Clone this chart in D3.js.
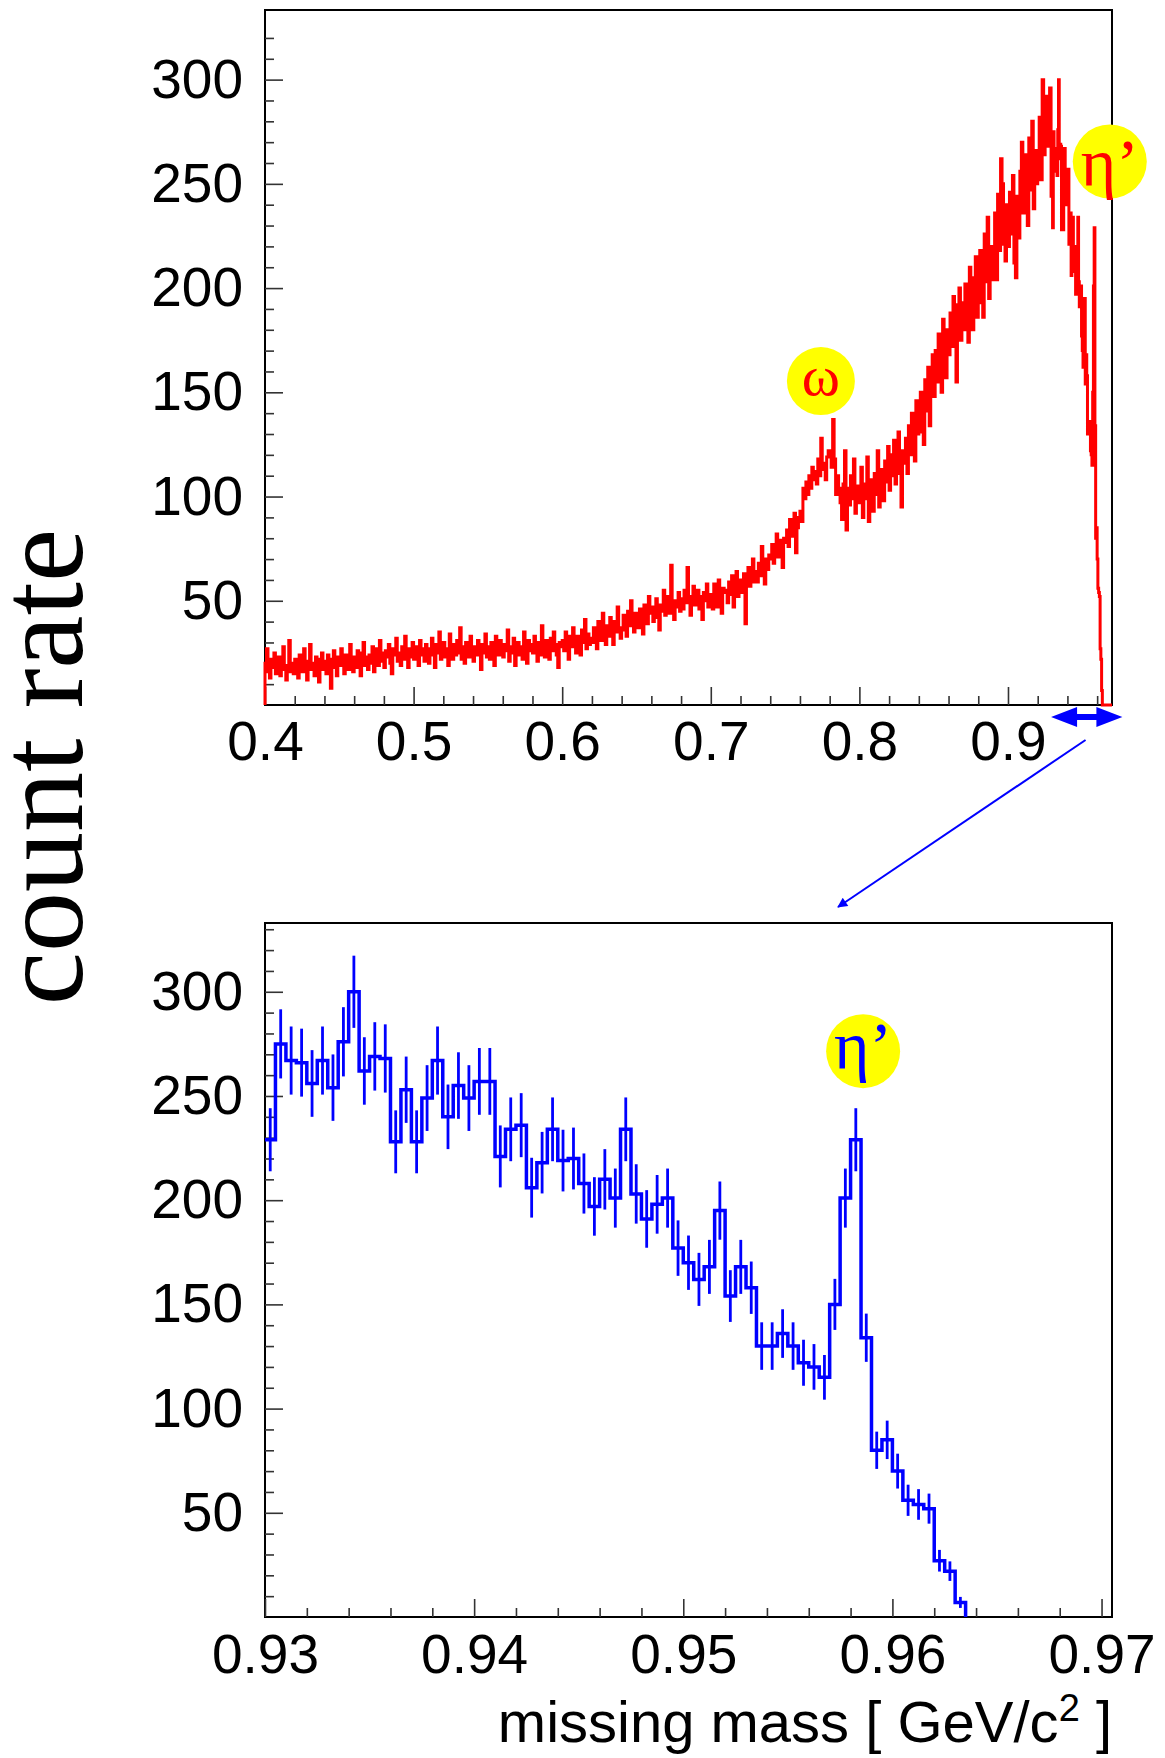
<!DOCTYPE html>
<html><head><meta charset="utf-8">
<script src="https://cdn.jsdelivr.net/npm/d3@7"></script>
<style>body{margin:0;background:#fff}</style>
</head><body>
<svg id="c" width="1165" height="1758"></svg>
<script>
// ---------------- DATA ----------------
// upper panel: counts per bin, bins of 0.001 starting at the given mass
const top_040_050 = [20,27,16,13,22,18,25,15,19,23, 14,21,28,17,12,19,31,16,20,15, 22,18,13,24,19,16,27,21,12,18, 29,17,20,14,23,19,11,22,25,17, 21,15,24,19,8,22,26,18,14,23, 19,27,21,15,24,20,17,29,22,16, 23,18,26,21,14,25,30,19,23,17, 24,20,28,16,22,27,19,31,21,25, 18,26,23,29,20,15,27,24,32,21, 25,19,28,22,33,24,18,27,23,30];
const top_050_060 = [22,28,25,19,31,24,27,21,29,26, 20,27,32,24,18,29,25,35,22,27, 30,23,27,19,34,26,22,29,24,31, 25,37,22,28,20,30,26,23,33,27, 21,28,24,31,26,17,29,25,34,23, 28,22,30,25,19,33,27,24,31,26, 23,29,26,36,21,28,25,32,19,27, 30,24,28,22,35,27,20,31,26,29, 25,33,27,21,30,24,38,28,23,31, 27,22,32,26,35,29,24,18,30,28];
const top_060_070 = [31,26,35,29,22,33,28,37,30,25, 33,28,24,36,30,41,27,34,29,32, 30,37,33,27,40,35,31,44,34,29, 38,33,42,36,29,40,35,47,37,32, 36,43,39,33,45,38,50,41,35,44, 41,37,46,40,34,48,43,39,52,44, 47,40,44,51,42,36,48,45,55,43, 46,52,44,67,48,41,50,47,54,45, 51,46,55,49,66,52,43,50,57,48, 49,55,46,52,41,54,50,58,47,53];
const top_070_080 = [51,46,58,53,47,60,52,44,56,54, 55,49,59,53,62,47,56,64,52,58, 60,54,63,39,58,66,57,61,70,59, 64,59,68,62,76,66,58,70,65,72, 70,77,68,74,82,71,79,73,66,80, 78,84,76,89,81,86,92,73,85,90, 93,88,104,99,107,101,110,104,114,108, 112,106,118,110,128,116,113,108,119,122, 120,114,137,118,101,110,104,97,89,106, 122,84,104,96,110,99,118,92,105,101];
const top_080_090 = [97,114,90,106,99,119,88,108,102,93, 111,101,122,95,113,104,98,117,107,124, 103,120,110,127,106,117,131,111,95,122, 116,128,111,134,120,140,124,117,146,130, 131,150,136,125,156,141,162,134,152,168, 148,170,155,178,160,150,185,166,157,180, 168,188,172,196,176,155,192,200,175,193, 180,202,186,174,210,190,180,205,215,186, 193,218,200,186,226,203,234,195,220,204, 210,236,204,245,218,262,250,221,213,240];
const top_090_093 = [220,246,226,254,212,205,244,224,256,270, 236,264,244,230,272,247,280,238,266,250, 256,282,252,300,264,292,268,276,296,244];
// lower panel (also the tail of the upper one): counts per bin of 0.0005 from 0.930
const zoomCounts = [229,275,267,266,256,267,254,276,300,262, 269,268,228,253,228,249,267,240,255,249, 257,257,221,234,236,206,218,234,219,220, 208,197,210,201,234,203,191,198,201,177, 170,162,168,195,154,168,158,130,130,136, 130,122,120,115,150,201,229,134,80,85, 70,56,54,52,27,22,7,0,0,0, 0,0,0,0,0,0,0,0,0,0, 0];
const topBinWidth = 0.001, zoomBinWidth = 0.0005;
const topChunks = [[0.40, top_040_050],[0.50, top_050_060],[0.60, top_060_070],[0.70, top_070_080],[0.80, top_080_090],[0.90, top_090_093]];
const zoomStart = 0.93;

const yTickLabels = [50,100,150,200,250,300];
const topXTicks = [0.4,0.5,0.6,0.7,0.8,0.9];
const botXTicks = [0.93,0.94,0.95,0.96,0.97];

// ---------------- LAYOUT ----------------
const svg = d3.select('#c');
svg.append('rect').attr('width',1165).attr('height',1758).attr('fill','#fff');
const PT = {l:265, r:1112, t:10, b:705};
const PB = {l:265, r:1112, t:923, b:1617};
const SANS = '"Liberation Sans", Arial, Helvetica, sans-serif';
const SERIF = '"Liberation Serif", "Times New Roman", Times, serif';

const xT = d3.scaleLinear().domain([0.40, 0.97]).range([PT.l, PT.r]);
const yT = d3.scaleLinear().domain([0, 333.4]).range([PT.b, PT.t]);
const xB = d3.scaleLinear().domain([0.93, 0.9705]).range([PB.l, PB.r]);
const yB = d3.scaleLinear().domain([0, 333]).range([PB.b, PB.t]);

function mkBins(start, w, vals){ return vals.map((v,i)=>({x0:start+i*w, x1:start+(i+1)*w, v})); }
const topBins = [].concat(...topChunks.map(c=>mkBins(c[0], topBinWidth, c[1])), mkBins(zoomStart, zoomBinWidth, zoomCounts));
const botBins = mkBins(zoomStart, zoomBinWidth, zoomCounts);

// clip paths
const defs = svg.append('defs');
defs.append('clipPath').attr('id','clipT').append('rect').attr('x',PT.l-2).attr('y',PT.t).attr('width',PT.r-PT.l+2).attr('height',PT.b-PT.t+2);
defs.append('clipPath').attr('id','clipB').append('rect').attr('x',PB.l).attr('y',PB.t).attr('width',PB.r-PB.l).attr('height',PB.b-PB.t);
defs.append('marker').attr('id','ah').attr('viewBox','0 0 10 10').attr('refX',9).attr('refY',5)
  .attr('markerWidth',7).attr('markerHeight',5).attr('markerUnits','strokeWidth').attr('orient','auto')
  .append('path').attr('d','M0,0L10,5L0,10Z').attr('fill','#0000ff');

// frames
[PT,PB].forEach(P=>svg.append('rect').attr('x',P.l).attr('y',P.t).attr('width',P.r-P.l).attr('height',P.b-P.t)
  .attr('fill','none').attr('stroke','#000').attr('stroke-width',2));

function axes(P, x, y, xMaj, xMin, yMaj, yMin, fmt, pad){
  const gx = svg.append('g').attr('transform',`translate(0,${P.b})`).attr('color','#333');
  gx.append('g').call(d3.axisBottom(x).tickValues(xMin).tickSize(-9).tickFormat('')).call(s=>s.select('.domain').remove());
  const gm = gx.append('g').call(d3.axisBottom(x).tickValues(xMaj).tickSize(-18).tickPadding(pad).tickFormat(fmt)).call(s=>s.select('.domain').remove());
  const gy = svg.append('g').attr('transform',`translate(${P.l},0)`).attr('color','#333');
  gy.append('g').call(d3.axisLeft(y).tickValues(yMin).tickSize(-9).tickFormat('')).call(s=>s.select('.domain').remove());
  const gym = gy.append('g').call(d3.axisLeft(y).tickValues(yMaj).tickSize(-18).tickPadding(22)).call(s=>s.select('.domain').remove());
  [gm, gym].forEach(g=>{
    g.attr('font-size',55).attr('font-family',SANS);
    g.selectAll('text').attr('fill','#000');
  });
  svg.selectAll('.tick line').attr('stroke-width',1.6);
}
axes(PT, xT, yT, topXTicks, d3.range(0.42, 0.97, 0.02).filter(v=>Math.abs(v*10-Math.round(v*10))>1e-6),
     yTickLabels, d3.range(10, 321, 10).filter(v=>v%50), d3.format('.1f'), 16);
axes(PB, xB, yB, botXTicks, d3.range(0.932, 0.9701, 0.002).filter(v=>Math.abs(v*100-Math.round(v*100))>1e-6),
     yTickLabels, d3.range(10, 331, 10).filter(v=>v%50), d3.format('.2f'), 17);

// upper histogram (red)
let pT = `M${xT(topBins[0].x0)},${yT(0)}`;
topBins.forEach(d=>{ pT += `V${yT(d.v)}H${xT(d.x1)}`; });
svg.append('path').attr('d',pT).attr('clip-path','url(#clipT)').attr('fill','none')
  .attr('stroke','#ff0000').attr('stroke-width',3).attr('stroke-linejoin','miter');

// lower histogram (blue) with sqrt(N) error bars
const lastNZ = d3.max(botBins.map((d,i)=>d.v>0?i:-1));
let pB = `M${xB(botBins[0].x0)},${yB(botBins[0].v)}`;
botBins.slice(0,lastNZ+1).forEach((d,i)=>{ if(i>0) pB += `V${yB(d.v)}`; pB += `H${xB(d.x1)}`; });
pB += `V${yB(0)}`;
const gB = svg.append('g').attr('clip-path','url(#clipB)');
gB.selectAll('line.err').data(botBins.filter(d=>d.v>0)).join('line').attr('class','err')
  .attr('x1',d=>xB((d.x0+d.x1)/2)).attr('x2',d=>xB((d.x0+d.x1)/2))
  .attr('y1',d=>yB(d.v-Math.sqrt(d.v))).attr('y2',d=>yB(d.v+Math.sqrt(d.v)))
  .attr('stroke','#0000ff').attr('stroke-width',2.8);
gB.append('path').attr('d',pB).attr('fill','none').attr('stroke','#0000ff').attr('stroke-width',3.5);

// ---------------- TEXT ----------------
svg.append('text').attr('transform','translate(82,767) rotate(-90)').attr('text-anchor','middle')
  .attr('font-family',SERIF).attr('font-size',120).text('count rate');

const xl = svg.append('text').attr('x',PB.r).attr('y',1742).attr('text-anchor','end')
  .attr('font-family',SANS).attr('font-size',58);
xl.append('tspan').text('missing mass [ GeV/c');
xl.append('tspan').attr('dy',-21).attr('font-size',38).text('2');
xl.append('tspan').attr('dy',21).text(' ]');

// annotations (circles placed in data coordinates)
function label(cx, cy, r, txt, color, fs, dy){
  svg.append('ellipse').attr('cx',cx).attr('cy',cy).attr('rx',r).attr('ry',r).attr('fill','#ffff00');
  svg.append('text').attr('x',cx).attr('y',cy+dy).attr('text-anchor','middle').attr('font-family',SERIF)
    .attr('font-size',fs).attr('fill',color).text(txt);
}
label(xT(0.7741), yT(155.4), 34, 'ω', '#ff0000', 58, 14);
label(xT(0.9685), yT(260.7), 37, 'η’', '#ff0000', 68, 24);
label(xB(0.9586), yB(271.5), 37, 'η’', '#0000ff', 68, 18);

// range arrow under the upper axis
const ax0 = xT(0.929), ax1 = xT(0.977), ay = PT.b + 12, hl = 26;
svg.append('path').attr('fill','#0000ff')
  .attr('d',`M${ax0},${ay}L${ax0+hl},${ay-10}V${ay-3}H${ax1-hl}V${ay-10}L${ax1},${ay}L${ax1-hl},${ay+10}V${ay+3}H${ax0+hl}V${ay+10}Z`);
// connector to the zoomed panel
svg.append('line').attr('x1',xT(0.9522)).attr('y1',PT.b+35).attr('x2',xB(0.9574)).attr('y2',PB.t-16)
  .attr('stroke','#0000ff').attr('stroke-width',2).attr('marker-end','url(#ah)');
</script>
</body></html>
